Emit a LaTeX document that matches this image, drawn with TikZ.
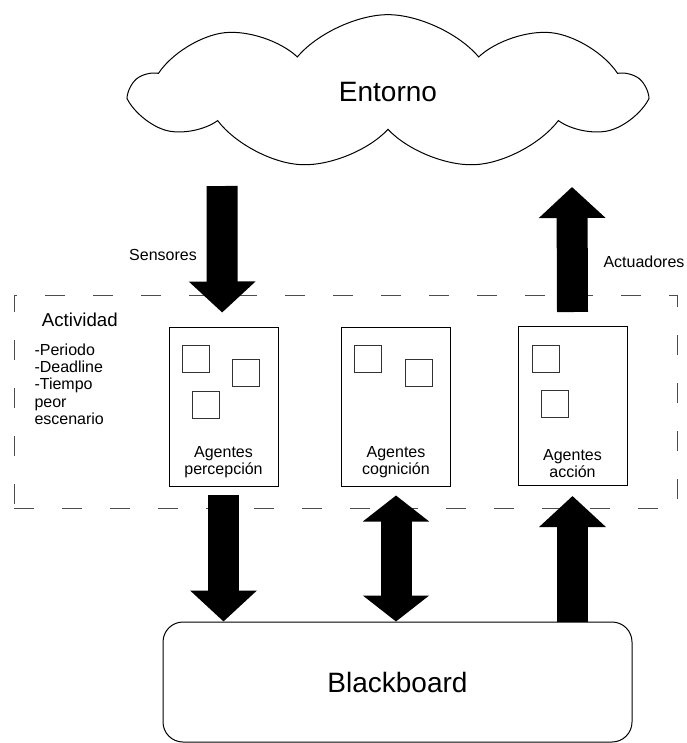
\documentclass[tikz,border=0pt]{standalone}
\usepackage{fontspec}
\setmainfont{Liberation Sans}
\usetikzlibrary{arrows.meta,positioning,shapes.symbols}

\begin{document}
\begin{tikzpicture}[
  x=0.75pt, y=-0.75pt,
  font=\fontsize{12}{13}\selectfont,
  line width=0.75pt,
  big/.style={font=\fontsize{21}{25}\selectfont},
  fat/.style={line width=23.25pt, draw=black},
  down/.style={fat, -{Triangle[width=48.75pt, length=23.25pt]}},
  both/.style={fat, {Triangle[width=48.75pt, length=19.5pt]}-{Triangle[width=48.75pt, length=19.5pt]}},
  agent/.style={draw, minimum width=81.75pt, minimum height=119.25pt, inner sep=0pt},
  unit/.style={draw=black!80, minimum size=20.25pt, inner sep=0pt},
  caption/.style={align=center, inner sep=2pt},
  activity/.style={draw=black!70, dash pattern=on 15pt off 21pt,
                   minimum width=497.25pt, minimum height=159.75pt, inner sep=0pt}
]
\useasboundingbox (0,0) rectangle (686,743);

% Environment and shared memory.
\node[cloud, draw, cloud puffs=9, cloud puff arc=100, aspect=3.2,
      minimum width=382.5pt, minimum height=116pt, big] (entorno) at (388,92) {Entorno};
\node[draw, rounded corners=15pt, minimum width=351.75pt, minimum height=90pt, big]
  (blackboard) at (397.5,682) {Blackboard};

% Activity frame.
\node[activity] (actividad) at (345.5,401.5) {};
\node[anchor=west, font=\fontsize{14}{16}\selectfont] (acttitle) at (37,320) {Actividad};
\node[anchor=north west, align=left, inner sep=0pt] (actlist) at (34,343)
  {-Periodo\\-Deadline\\-Tiempo\\peor\\escenario};

% Agent groups.
\node[agent] (perc) at (223.5,406.5) {};
\node[agent] (cogn) at (396,406.5) {};
\node[agent] (acc)  at (572.5,406) {};
\node[caption, above=4pt of perc.south] {Agentes\\percepción};
\node[caption, above=4pt of cogn.south] {Agentes\\cognición};
\node[caption, above=4pt of acc.south]  {Agentes\\acción};

\node[unit] (p1) at (196,358.5) {};
\node[unit] (p2) at (246,372.5) {};
\node[unit] (p3) at (205.5,404.5) {};
\node[unit] (c1) at (368,358.5) {};
\node[unit] (c2) at (418.5,372.5) {};
\node[unit] (a1) at (545.5,358.5) {};
\node[unit] (a2) at (554.5,404) {};

% Sensors and actuators.
\coordinate (sens) at (222,186);
\coordinate (actu) at (572,187);
\draw[down] (sens) -- ([xshift=-1pt, yshift=10.5pt]perc.north);
\draw[down] ([yshift=10.5pt]acc.north) -- (actu);
\node (senslabel) at (163,255) {Sensores};
\node (actulabel) at (644,262) {Actuadores};

% Blackboard access.
\draw[down] ([yshift=-6pt]perc.south) -- (perc.south |- blackboard.north);
\draw[both] ([yshift=-6.75pt]cogn.south) -- (cogn.south |- blackboard.north);
\draw[down] (acc.south |- blackboard.north) -- ([yshift=-7.5pt]acc.south);

\end{tikzpicture}
\end{document}
